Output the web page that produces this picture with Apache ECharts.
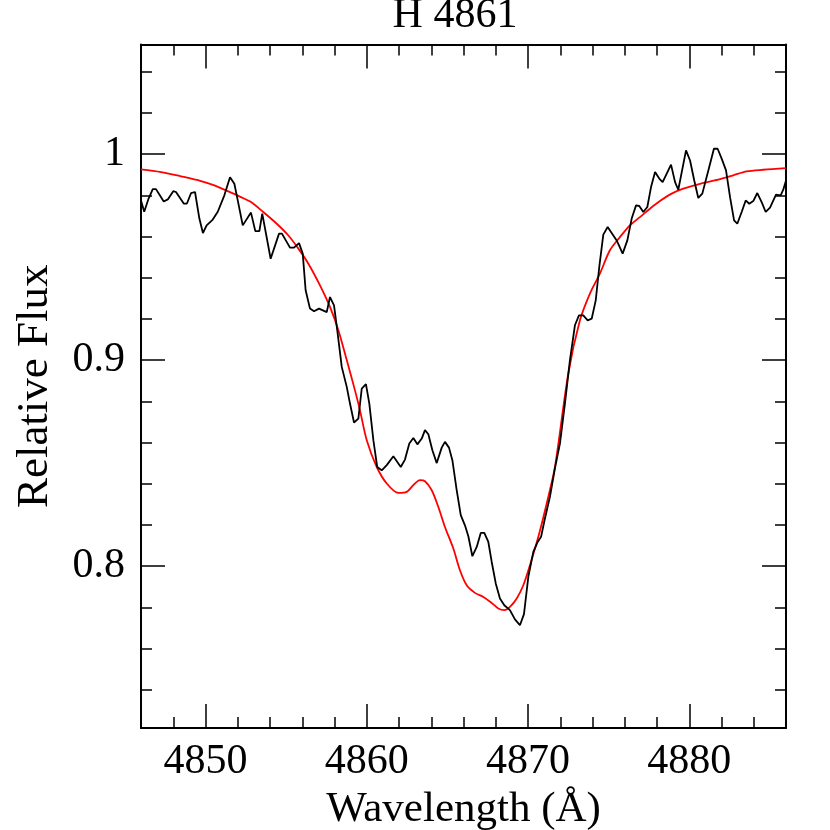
<!DOCTYPE html>
<html>
<head>
<meta charset="utf-8">
<script src="https://cdn.jsdelivr.net/npm/echarts@6/dist/echarts.min.js"></script>
<style>
  html, body { margin: 0; padding: 0; background: #fff; }
  #chart { width: 830px; height: 830px; }
</style>
</head>
<body>
<div id="chart"></div>
<script>
// observed spectrum (black)
var obsWave = [4846.00, 4846.20, 4846.45, 4846.73, 4846.93, 4847.41, 4847.66, 4848.00, 4848.17, 4848.65,
  4848.85, 4849.10, 4849.35, 4849.62, 4849.84, 4850.07, 4850.45, 4850.76, 4851.17, 4851.52,
  4851.79, 4852.00, 4852.31, 4852.82, 4853.09, 4853.34, 4853.52, 4854.04, 4854.56, 4854.74,
  4855.24, 4855.49, 4855.80, 4856.03, 4856.21, 4856.48, 4856.73, 4857.04, 4857.52, 4857.72,
  4857.97, 4858.17, 4858.45, 4858.76, 4858.96, 4859.21, 4859.48, 4859.69, 4859.95, 4860.16,
  4860.41, 4860.65, 4860.93, 4861.24, 4861.65, 4862.11, 4862.37, 4862.64, 4862.89, 4863.14,
  4863.41, 4863.61, 4863.82, 4864.07, 4864.34, 4864.65, 4864.85, 4865.10, 4865.31, 4865.58,
  4865.83, 4866.09, 4866.30, 4866.55, 4866.82, 4867.07, 4867.29, 4867.54, 4867.75, 4868.00,
  4868.26, 4868.53, 4868.88, 4869.19, 4869.50, 4869.75, 4870.02, 4870.33, 4870.60, 4870.81,
  4871.05, 4871.36, 4871.67, 4871.98, 4872.29, 4872.60, 4872.91, 4873.16, 4873.43, 4873.70,
  4873.95, 4874.20, 4874.42, 4874.67, 4874.94, 4875.50, 4875.87, 4876.16, 4876.43, 4876.70,
  4876.90, 4877.15, 4877.40, 4877.63, 4877.88, 4878.14, 4878.35, 4878.87, 4879.12, 4879.32,
  4879.80, 4880.05, 4880.31, 4880.56, 4880.81, 4881.24, 4881.53, 4881.76, 4882.01, 4882.28,
  4882.53, 4882.78, 4882.98, 4883.25, 4883.50, 4883.72, 4883.97, 4884.22, 4884.49, 4884.74,
  4885.01, 4885.38, 4885.67, 4885.83, 4886.00];
var obsFlux = [0.9775, 0.972, 0.978, 0.983, 0.983, 0.977, 0.978, 0.982, 0.9816, 0.976,
  0.976, 0.981, 0.9816, 0.9687, 0.9617, 0.9654, 0.9682, 0.972, 0.980, 0.9888,
  0.9856, 0.9775, 0.9654, 0.9716, 0.9626, 0.9626, 0.9711, 0.9492, 0.9614, 0.9614,
  0.9546, 0.9546, 0.9568, 0.9517, 0.9339, 0.925, 0.9237, 0.925, 0.9233, 0.9306,
  0.9266, 0.9145, 0.8967, 0.887, 0.8789, 0.8697, 0.8716, 0.8862, 0.8883, 0.8789,
  0.8611, 0.8481, 0.8465, 0.849, 0.8533, 0.8481, 0.8517, 0.8595, 0.8622, 0.8591,
  0.8619, 0.866, 0.864, 0.8562, 0.850, 0.8575, 0.8603, 0.8575, 0.8514, 0.8368,
  0.8247, 0.8198, 0.8145, 0.8048, 0.8093, 0.8161, 0.8161, 0.8117, 0.802, 0.7916,
  0.7843, 0.781, 0.7786, 0.7741, 0.7713, 0.7767, 0.7948, 0.8069, 0.8117, 0.8142,
  0.8231, 0.8336, 0.8474, 0.8595, 0.8789, 0.900, 0.9169, 0.9217, 0.9217, 0.9193,
  0.9201, 0.929, 0.9452, 0.9609, 0.9646, 0.9581, 0.9517, 0.9581, 0.9687, 0.9751,
  0.9748, 0.9719, 0.9743, 0.984, 0.9913, 0.9881, 0.9864, 0.9949, 0.9864, 0.9827,
  1.0018, 0.9969, 0.9872, 0.9787, 0.9808, 0.9937, 1.0026, 1.0026, 0.9978, 0.9921,
  0.9791, 0.9678, 0.9662, 0.9719, 0.9775, 0.9759, 0.9772, 0.9811, 0.9767, 0.9719,
  0.974, 0.9803, 0.980, 0.9827, 0.9872];

// model profile (red)
var modelWave = [4846.00, 4847.24, 4848.48, 4849.72, 4850.55, 4851.38, 4852.20, 4852.82, 4853.58, 4854.42,
  4855.13, 4855.76, 4856.38, 4857.10, 4857.72, 4858.24, 4858.76, 4859.27, 4859.58, 4860.00,
  4860.62, 4861.24, 4861.96, 4862.48, 4862.89, 4863.30, 4863.61, 4864.03, 4864.44, 4864.85,
  4865.37, 4865.78, 4866.20, 4866.71, 4867.23, 4867.75, 4868.16, 4868.53, 4868.88, 4869.30,
  4869.71, 4870.12, 4870.64, 4871.16, 4871.67, 4872.50, 4873.22, 4873.84, 4874.46, 4875.08,
  4875.70, 4876.32, 4876.94, 4877.56, 4878.18, 4878.91, 4879.63, 4880.66, 4881.80, 4882.73,
  4883.56, 4884.59, 4886.00];
var modelFlux = [0.9926, 0.9913, 0.9892, 0.9869, 0.9848, 0.982, 0.9791, 0.9767, 0.9719, 0.9662,
  0.9606, 0.9541, 0.9468, 0.9363, 0.9258, 0.9145, 0.900, 0.8853, 0.8756, 0.8611,
  0.8481, 0.8401, 0.8355, 0.836, 0.8393, 0.8417, 0.8412, 0.8368, 0.8287, 0.819,
  0.8085, 0.798, 0.7907, 0.787, 0.785, 0.7821, 0.7794, 0.7786, 0.7802, 0.7843,
  0.7907, 0.8004, 0.8142, 0.8304, 0.8481, 0.8935, 0.9193, 0.9323, 0.942, 0.9533,
  0.9597, 0.9654, 0.9694, 0.9735, 0.9772, 0.9808, 0.9832, 0.9856, 0.9876, 0.9897,
  0.9916, 0.9924, 0.9932];

var xMajor = [4850, 4860, 4870, 4880];
var xMinor = [4848, 4852, 4854, 4856, 4858, 4862, 4864, 4866, 4868, 4872, 4874, 4876, 4878, 4882, 4884];
var yMajor = [0.8, 0.9, 1.0];
var yMinor = [0.74, 0.76, 0.78, 0.82, 0.84, 0.86, 0.88, 0.92, 0.94, 0.96, 0.98, 1.02, 1.04];

var xMin = 4846, xMax = 4886;
var yMin = 0.7214, yMax = 1.0532;

var font = '"Liberation Serif", "DejaVu Serif", serif';

var obsData = obsWave.map(function (v, i) { return [v, obsFlux[i]]; });
var modelData = modelWave.map(function (v, i) { return [v, modelFlux[i]]; });

// one axis = frame side + ticks; major and minor ticks live on separate axes
function ax(pos, min, max, ticks, len, line, label) {
  return {
    type: 'value', position: pos, min: min, max: max,
    axisLine: { show: line, onZero: false, lineStyle: { color: '#000', width: 2 } },
    axisTick: { show: true, inside: true, length: len, customValues: ticks, lineStyle: { color: '#000', width: 1.5 } },
    axisLabel: label ? Object.assign({
      customValues: ticks, color: '#000', fontFamily: font, fontSize: 42,
      formatter: function (v) { return String(v); }
    }, label) : { show: false },
    splitLine: { show: false }
  };
}

var xb = ax('bottom', xMin, xMax, xMajor, 24, true, { margin: 13 });
xb.name = 'Wavelength (Å)';
xb.nameLocation = 'middle';
xb.nameGap = 77;
xb.nameTextStyle = { color: '#000', fontFamily: font, fontSize: 43, verticalAlign: 'middle' };

var yl = ax('left', yMin, yMax, yMajor, 24, true, { margin: 16 });
yl.name = 'Relative Flux';
yl.nameLocation = 'middle';
yl.nameGap = 106;
yl.nameTextStyle = { color: '#000', fontFamily: font, fontSize: 45, verticalAlign: 'middle', align: 'center' };

var chart = echarts.init(document.getElementById('chart'));
chart.setOption({
  animation: false,
  backgroundColor: '#fff',
  grid: { left: 141, right: 44, top: 44.5, bottom: 102, containLabel: false, outerBoundsMode: 'none' },
  graphic: [{
    type: 'text', x: 455, y: 16,
    style: { text: 'H 4861', fill: '#000', font: '42px ' + font, textAlign: 'center', textVerticalAlign: 'middle' }
  }],
  xAxis: [
    xb,
    ax('bottom', xMin, xMax, xMinor, 11, false),
    ax('top', xMin, xMax, xMajor, 24, true),
    ax('top', xMin, xMax, xMinor, 11, false)
  ],
  yAxis: [
    yl,
    ax('left', yMin, yMax, yMinor, 11, false),
    ax('right', yMin, yMax, yMajor, 24, true),
    ax('right', yMin, yMax, yMinor, 11, false)
  ],
  series: [
    {
      name: 'model', type: 'line', data: modelData, xAxisIndex: 0, yAxisIndex: 0,
      showSymbol: false, smooth: 0.3, lineStyle: { color: '#ff0000', width: 1.8 }, z: 2
    },
    {
      name: 'observed', type: 'line', data: obsData, xAxisIndex: 0, yAxisIndex: 0,
      showSymbol: false, lineStyle: { color: '#000', width: 1.8 }, z: 3
    }
  ]
});
</script>
</body>
</html>
